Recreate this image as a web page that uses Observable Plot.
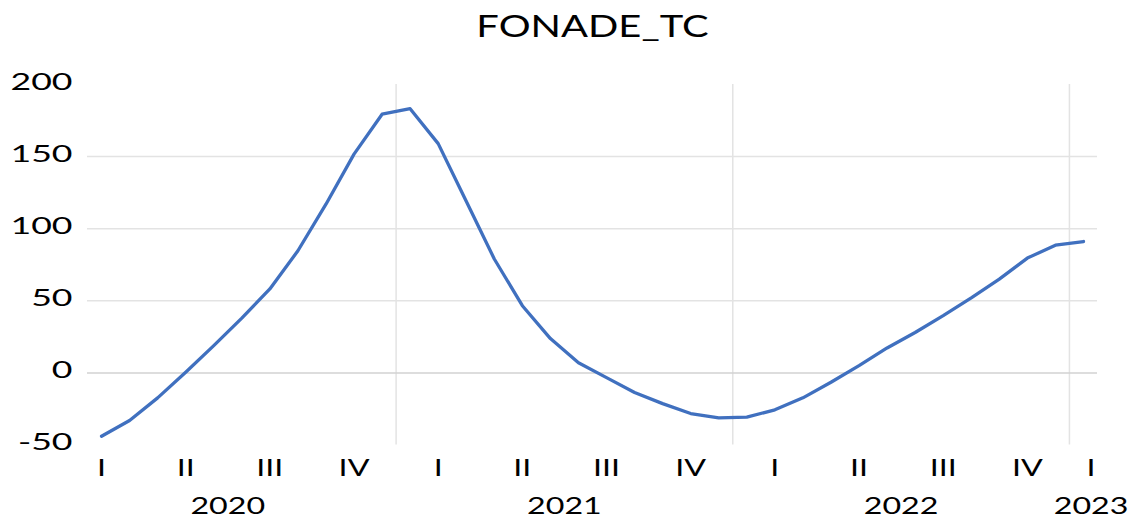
<!DOCTYPE html>
<html>
<head>
<meta charset="utf-8">
<script src="https://cdn.jsdelivr.net/npm/d3@7"></script>
<script src="https://cdn.jsdelivr.net/npm/@observablehq/plot@0.6"></script>
<style>
  html, body { margin: 0; padding: 0; background: #fff; }
  #chart { width: 1140px; height: 519px; }
</style>
</head>
<body>
<div id="chart"></div>
<script>
// ---- data ----
const title = "FONADE_TC";
const months = [
  "2020-02","2020-03","2020-04","2020-05","2020-06","2020-07","2020-08","2020-09","2020-10","2020-11","2020-12",
  "2021-01","2021-02","2021-03","2021-04","2021-05","2021-06","2021-07","2021-08","2021-09","2021-10","2021-11","2021-12",
  "2022-01","2022-02","2022-03","2022-04","2022-05","2022-06","2022-07","2022-08","2022-09","2022-10","2022-11","2022-12",
  "2023-01"
];
const values = [
  -43.9, -33, -17.3, 0.4, 18.9, 38, 58.2, 84.7, 117, 151.7, 179.4,
  183.2, 159, 119, 79, 46.6, 23.8, 7, -3.3, -13.6, -21.3, -28.2, -31.2,
  -30.7, -25.6, -17.3, -6.5, 5, 17.3, 28, 39.7, 52, 65, 79.6, 88.6,
  91.1
];
const yTicks = [-50, 0, 50, 100, 150, 200];
const quarterNames = ["I", "II", "III", "IV"];
const years = [2020, 2021, 2022, 2023];

// ---- derived ----
const baseYear = 2020;
const idx = s => (+s.slice(0, 4) - baseYear) * 12 + (+s.slice(5, 7) - 1);
const data = months.map((m, i) => ({ i: idx(m), v: values[i] }));
const firstI = data[0].i, lastI = data[data.length - 1].i;
const maxLabelPos = lastI + 0.27;

const quarters = [];
for (const y of years) {
  for (let q = 0; q < 4; q++) {
    const start = (y - baseYear) * 12 + q * 3;
    if (start > lastI || start + 2 < firstI) continue;
    quarters.push({ label: quarterNames[q], pos: Math.min(start + 1, maxLabelPos) });
  }
}
const yearLabels = years.map(y => ({ label: String(y), pos: Math.min((y - baseYear) * 12 + 5.5, maxLabelPos) }));
const yearBounds = years.slice(1).map(y => (y - baseYear) * 12 - 0.5);

const blue = "#4070BF";
const grid = "#e3e3e3";

const chart = Plot.plot({
  width: 1140,
  height: 519,
  marginLeft: 87,
  marginRight: 43,
  marginTop: 84,
  marginBottom: 74.5,
  x: { domain: [firstI - 0.5, lastI + 0.5], axis: null },
  y: { domain: [-50, 200], axis: null },
  style: { fontFamily: "Lato, 'Open Sans', sans-serif", color: "#000", background: "#fff" },
  marks: [
    Plot.ruleY([50, 100, 150], { stroke: grid, strokeWidth: 1.5 }),
    Plot.ruleX(yearBounds, { y1: -50, y2: 200, stroke: grid, strokeWidth: 1.5 }),
    Plot.ruleY([0], { stroke: "#d2d2d2", strokeWidth: 1.5 }),
    Plot.lineY(data, { x: "i", y: "v", stroke: blue, strokeWidth: 3.3, strokeLinejoin: "round" }),
    Plot.axisY(yTicks, { tickSize: 0, tickPadding: 15, dy: -2, fontSize: 23, label: null, tickFormat: d => String(d) }),
    Plot.text(quarters, { x: "pos", text: "label", frameAnchor: "bottom", dy: 24, fontSize: 23, lineAnchor: "middle" }),
    Plot.text(yearLabels, { x: "pos", text: "label", frameAnchor: "bottom", dy: 62, fontSize: 23, lineAnchor: "middle" }),
    Plot.text([title], { text: d => d, frameAnchor: "top", dy: -57, fontSize: 30, lineAnchor: "middle" })
  ]
});
document.getElementById("chart").appendChild(chart);

// horizontal stretch of text around its anchor, mimicking the stretched reference
function stretch(texts, s) {
  texts.forEach(t => {
    const tr = t.getAttribute("transform");
    if (tr) {
      t.setAttribute("transform", tr + ` scale(${s},1)`);
    } else {
      const x = +(t.getAttribute("x") || 0);
      t.setAttribute("transform", `translate(${x},0) scale(${s},1) translate(${-x},0)`);
    }
  });
}
const axisTexts = chart.querySelectorAll('g[aria-label^="y-axis tick label"] text');
stretch(axisTexts, 1.55);
const textGroups = chart.querySelectorAll('g[aria-label="text"]');
// order: quarters, years, title
if (textGroups[0]) stretch(textGroups[0].querySelectorAll("text"), 1.4);
if (textGroups[1]) stretch(textGroups[1].querySelectorAll("text"), 1.4);
if (textGroups[2]) stretch(textGroups[2].querySelectorAll("text"), 1.33);
</script>
</body>
</html>
